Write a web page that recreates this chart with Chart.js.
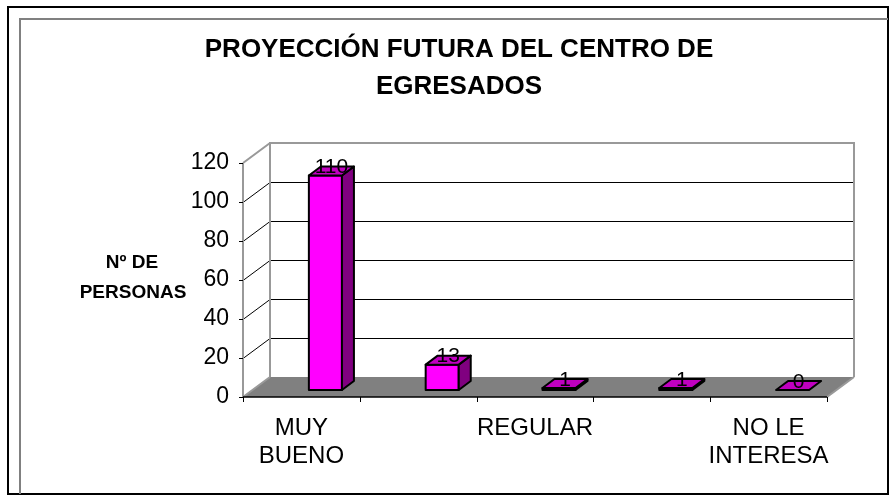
<!DOCTYPE html>
<html>
<head>
<meta charset="utf-8">
<script src="https://cdn.jsdelivr.net/npm/chart.js@4/dist/chart.umd.min.js"></script>
<style>
  html,body{margin:0;padding:0;background:#fff;}
  #wrap{width:892px;height:504px;position:relative;}
</style>
</head>
<body>
<div id="wrap"><canvas id="c" width="892" height="504"></canvas></div>
<script>
// ---- data ----
const categories = ['MUY BUENO', 'BUENO', 'REGULAR', 'MALO', 'NO LE INTERESA'];
const personas = [110, 13, 1, 1, 0];
const yTicks = [0, 20, 40, 60, 80, 100, 120];
const titleLines = ['PROYECCIÓN FUTURA DEL CENTRO DE', 'EGRESADOS'];
const yTitleLines = ['Nº DE', 'PERSONAS'];

// ---- 3D geometry (styles) ----
const DX = 27, DY = -20;      // wall depth
const BX = 24, BY = -7;       // bar placement inside depth
const SX = 12, SY = -9;       // bar thickness
const FONT = '"Liberation Sans", Arial, sans-serif';

function wrapLabel(s) {
  const words = s.split(' ');
  const lines = [];
  let cur = '';
  for (const w of words) {
    const t = cur ? cur + ' ' + w : w;
    if (t.length > 8 && cur) { lines.push(cur); cur = w; } else cur = t;
  }
  if (cur) lines.push(cur);
  return lines;
}

const scene = {
  id: 'scene',
  beforeDraw(chart) {
    const ctx = chart.ctx;
    const xs = chart.scales.x, ys = chart.scales.y;
    const a = chart.chartArea;
    ctx.save();
    ctx.fillStyle = '#fff';
    ctx.fillRect(0, 0, chart.width, chart.height);

    // outer frame
    ctx.strokeStyle = '#000';
    ctx.lineWidth = 2;
    ctx.strokeRect(8, 7, 880, 487);
    // inner frame (left/top)
    ctx.strokeStyle = '#808080';
    ctx.lineWidth = 2;
    ctx.beginPath();
    ctx.moveTo(20, 494); ctx.lineTo(20, 19); ctx.lineTo(888, 19);
    ctx.stroke();

    // title
    ctx.fillStyle = '#000';
    ctx.textAlign = 'center';
    ctx.textBaseline = 'middle';
    ctx.font = 'bold 26px ' + FONT;
    ctx.fillText(titleLines[0], 459, 50);
    ctx.fillText(titleLines[1], 459, 87);

    // y title
    ctx.font = 'bold 19px ' + FONT;
    ctx.fillText(yTitleLines[0], 132, 263);
    ctx.fillText(yTitleLines[1], 133, 293);

    const L = a.left, R = a.right;
    const T = ys.getPixelForValue(yTicks[yTicks.length - 1]);
    const B = ys.getPixelForValue(yTicks[0]);

    // floor
    ctx.fillStyle = '#808080';
    ctx.beginPath();
    ctx.moveTo(L, B); ctx.lineTo(R, B); ctx.lineTo(R + DX, B + DY); ctx.lineTo(L + DX, B + DY);
    ctx.closePath();
    ctx.fill();

    // gridlines on back wall + diagonals on side wall
    ctx.strokeStyle = '#000';
    ctx.lineWidth = 1;
    for (let i = 1; i < yTicks.length - 1; i++) {
      const y = Math.round(ys.getPixelForValue(yTicks[i])) + 0.5;
      ctx.beginPath();
      ctx.moveTo(L + DX, y + DY); ctx.lineTo(R + DX, y + DY);
      ctx.moveTo(L, y); ctx.lineTo(L + DX, y + DY);
      ctx.stroke();
    }

    // wall edges (gray)
    ctx.strokeStyle = '#999999';
    ctx.lineWidth = 2;
    ctx.beginPath();
    ctx.moveTo(L + DX, B + DY); ctx.lineTo(L + DX, T + DY); ctx.lineTo(R + DX, T + DY); ctx.lineTo(R + DX, B + DY);
    ctx.moveTo(L, T); ctx.lineTo(L + DX, T + DY);
    ctx.moveTo(L, T); ctx.lineTo(L, B);
    ctx.moveTo(L, B); ctx.lineTo(L + DX, B + DY);
    ctx.moveTo(R, B); ctx.lineTo(R + DX, B + DY);
    ctx.stroke();

    // front floor edge
    ctx.strokeStyle = '#000';
    ctx.lineWidth = 1.5;
    ctx.beginPath();
    ctx.moveTo(L, B); ctx.lineTo(R, B);
    ctx.stroke();

    // y tick marks
    ctx.lineWidth = 1;
    ctx.beginPath();
    for (const v of yTicks) {
      const y = Math.round(ys.getPixelForValue(v)) + 0.5;
      ctx.moveTo(L - 4, y); ctx.lineTo(L, y);
    }
    // x tick marks at category boundaries
    for (let k = 0; k <= categories.length; k++) {
      const x = Math.round(xs.getPixelForValue(k - 0.5)) + 0.5;
      ctx.moveTo(x, B); ctx.lineTo(x, B + 5);
    }
    ctx.stroke();
    ctx.restore();
  },
  beforeDatasetDraw() { return false; },
  afterDatasetsDraw(chart) {
    const ctx = chart.ctx;
    const meta = chart.getDatasetMeta(0);
    ctx.save();
    ctx.lineJoin = 'round';
    meta.data.forEach((el, i) => {
      const w = el.width;
      const l = el.x - w / 2 + BX, r = el.x + w / 2 + BX;
      const t = el.y + BY, b = el.base + BY;
      ctx.lineWidth = 2;
      ctx.strokeStyle = '#000';
      // front
      if (b - t > 0.5) {
        ctx.fillStyle = '#FF00FF';
        ctx.beginPath();
        ctx.rect(l, t, r - l, b - t);
        ctx.fill(); ctx.stroke();
        // side
        ctx.fillStyle = '#800080';
        ctx.beginPath();
        ctx.moveTo(r, t); ctx.lineTo(r + SX, t + SY); ctx.lineTo(r + SX, b + SY); ctx.lineTo(r, b);
        ctx.closePath(); ctx.fill(); ctx.stroke();
      }
      // top
      ctx.fillStyle = '#C000C0';
      ctx.beginPath();
      ctx.moveTo(l, t); ctx.lineTo(l + SX, t + SY); ctx.lineTo(r + SX, t + SY); ctx.lineTo(r, t);
      ctx.closePath(); ctx.fill(); ctx.stroke();
      // value label
      ctx.fillStyle = '#000';
      ctx.font = '21px ' + FONT;
      ctx.textAlign = 'center';
      ctx.textBaseline = 'alphabetic';
      ctx.fillText(String(personas[i]), (l + r) / 2 + 6, t - 2.5);
    });
    ctx.restore();
  }
};

new Chart(document.getElementById('c'), {
  type: 'bar',
  data: {
    labels: categories,
    datasets: [{
      data: personas,
      backgroundColor: '#FF00FF',
      borderWidth: 0,
      categoryPercentage: 1,
      barPercentage: 0.283
    }]
  },
  options: {
    responsive: false,
    animation: false,
    events: [],
    layout: { padding: { left: 0, right: 65, top: 163, bottom: 0 } },
    plugins: { legend: { display: false }, tooltip: { enabled: false }, title: { display: false } },
    scales: {
      x: {
        offset: true,
        grid: { display: false },
        border: { display: false },
        ticks: {
          autoSkip: false,
          maxRotation: 0,
          minRotation: 0,
          padding: 9,
          color: '#000',
          font: { family: FONT, size: 24, lineHeight: 1.17 },
          callback: (v, i) => (i % 2 === 0 ? wrapLabel(categories[i]) : '')
        },
        afterFit: s => { s.height = 107; }
      },
      y: {
        min: yTicks[0],
        max: yTicks[yTicks.length - 1],
        grid: { display: false },
        border: { display: false },
        ticks: {
          stepSize: 20,
          padding: 6,
          color: '#000',
          font: { family: FONT, size: 23 }
        },
        afterFit: s => { s.width = 243; }
      }
    }
  },
  plugins: [scene]
});
</script>
</body>
</html>
